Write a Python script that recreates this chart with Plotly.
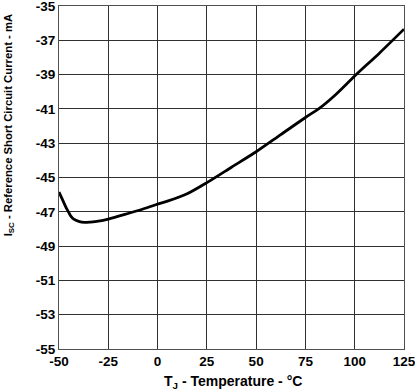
import plotly.graph_objects as go

temp_c = [-50, -48, -46, -45, -44, -42.5, -40, -37, -34, -30, -25, -15, -5, 0, 5, 15, 25, 37.5, 50, 62.5, 75, 82, 90, 100, 112.5, 125]
isc_ma = [-45.85, -46.35, -46.85, -47.05, -47.25, -47.43, -47.56, -47.62, -47.6, -47.55, -47.43, -47.1, -46.75, -46.55, -46.38, -45.95, -45.3, -44.4, -43.5, -42.5, -41.5, -40.97, -40.2, -39.08, -37.75, -36.35]

x_ticks = [-50, -25, 0, 25, 50, 75, 100, 125]
y_ticks = [-35, -37, -39, -41, -43, -45, -47, -49, -51, -53, -55]

FAM = "Liberation Sans, Arial, sans-serif"
tick_font = dict(family=FAM, size=13.5, color="black", weight="bold")

fig = go.Figure()
fig.add_trace(go.Scatter(x=temp_c, y=isc_ma, mode="lines",
                         line=dict(color="black", width=2.8, shape="spline", smoothing=0.8),
                         showlegend=False, hoverinfo="skip"))

axis_common = dict(showgrid=True, gridcolor="#303030", gridwidth=1,
                   showline=True, linecolor="#505050", linewidth=1, mirror=True,
                   zeroline=False, ticks="", tickfont=tick_font, automargin=False,
                   ticklabeloverflow="allow")

fig.update_xaxes(range=[-50, 125], tickvals=x_ticks, ticktext=[str(v) for v in x_ticks], **axis_common)
fig.update_yaxes(range=[-55, -35], tickvals=y_ticks, ticktext=[str(v) for v in y_ticks], **axis_common)

fig.add_annotation(text="<b>T<sub>J</sub> - Temperature - °C</b>", xref="paper", yref="paper",
                   x=0.505, y=0, yshift=-33, xanchor="center", yanchor="middle", showarrow=False,
                   font=dict(family=FAM, size=14, color="black"))
fig.add_annotation(text="<b>I<sub>SC</sub> - Reference Short Circuit Current - mA</b>", xref="paper", yref="paper",
                   x=0, y=0.652, xshift=-50, xanchor="center", yanchor="middle", textangle=-90, showarrow=False,
                   font=dict(family=FAM, size=11.3, color="black"))

fig.update_layout(width=415, height=390, margin=dict(l=59, r=11, t=6, b=41),
                  plot_bgcolor="white", paper_bgcolor="white")

fig.write_html("out.html")
